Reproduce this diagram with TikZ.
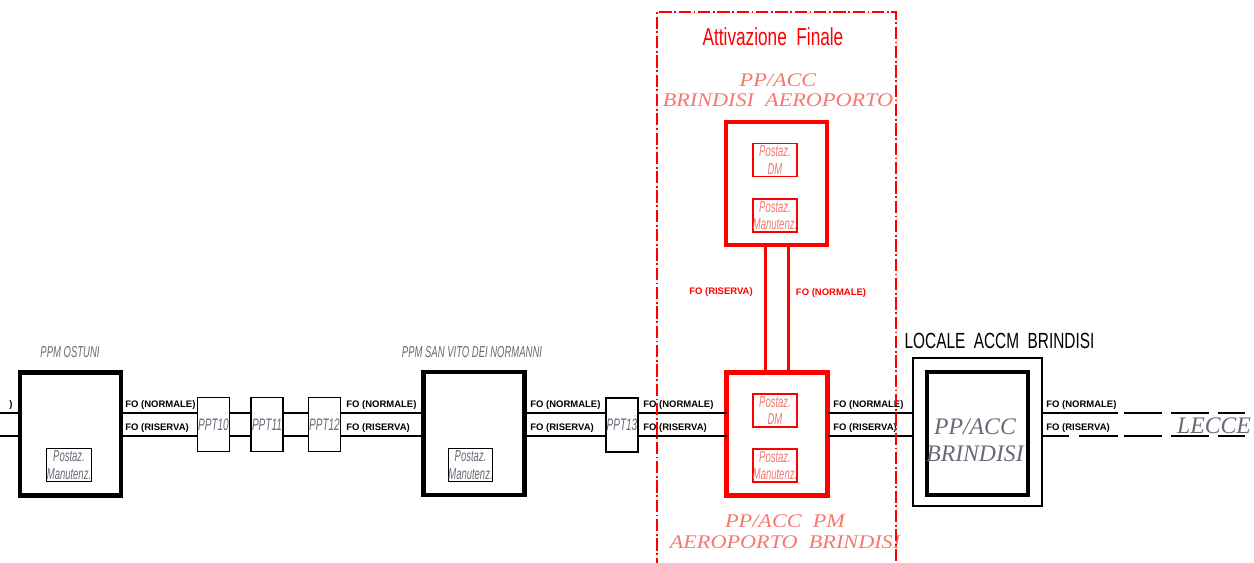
\documentclass[tikz,border=0pt]{standalone}
\usepackage{fontspec}
\setmainfont{Liberation Sans}
\newfontfamily\isofont[FakeStretch=0.6]{Liberation Sans}
\newfontfamily\narrowfont[FakeStretch=0.7]{Liberation Sans}
\newfontfamily\widefont[FakeStretch=1.15]{Liberation Serif}
\newfontfamily\seriffont{Liberation Serif}
\definecolor{salmon}{RGB}{245,120,110}
\definecolor{inkgray}{RGB}{105,105,120}

\begin{document}
\begin{tikzpicture}[
        x=0.02cm, y=-0.02cm,
        station/.style={
            rectangle,
            draw,
            line width=2.8pt,
            minimum width=2.02cm,
            minimum height=2.46cm,
            inner sep=0pt,
            outer sep=0pt
        },
        postaz/.style={
            rectangle,
            draw,
            line width=0.6pt,
            align=center,
            text=inkgray,
            font=\isofont\itshape\fontsize{9}{10}\selectfont,
            minimum width=0.88cm,
            minimum height=0.66cm,
            inner sep=0pt
        },
        redpostaz/.style={
            postaz,
            draw=red,
            line width=1pt,
            text=salmon
        },
        ppt/.style={
            rectangle,
            draw,
            line width=1.1pt,
            text=inkgray,
            font=\isofont\itshape\fontsize{9.5}{10}\selectfont,
            minimum width=0.64cm,
            minimum height=1.08cm,
            inner sep=0pt
        },
        isolabel/.style={
            text=inkgray,
            font=\isofont\itshape\fontsize{9}{10}\selectfont,
            inner sep=0pt
        },
        salmontext/.style={
            text=salmon,
            align=center,
            inner sep=0pt
        },
        fo/.style={
            anchor=west,
            inner sep=0pt,
            font=\bfseries\fontsize{5.4}{6}\selectfont
        },
        bus/.style={
            line width=1.7pt
        },
        redlink/.style={
            draw=red,
            line width=1.7pt
        },
        frame/.style={
            draw=red,
            line width=0.6pt,
            dash pattern=on 7pt off 1.5pt on 1pt off 1.5pt
        }
    ]

        \useasboundingbox (0,0) rectangle (1254,563);

        \coordinate (nrm) at (0,413);
        \coordinate (ris) at (0,436);
        \coordinate (rvl) at (765,0);
        \coordinate (rvr) at (788,0);
        \coordinate (farn) at (1245,413);
        \coordinate (farr) at (1245,436);

        % stations and splice boxes
        \node[station] (ostuni) at (70.5,434) {};
        \node[postaz] (ostunipm) at (69,465) {Postaz.\\Manutenz.};
        \node[ppt] (ppt10) at (213.5,424.5) {PPT10};
        \node[ppt] (ppt11) at (267,424.5) {PPT11};
        \node[ppt] (ppt12) at (324.5,424.5) {PPT12};
        \node[station] (sanvito) at (474,433.5) {};
        \node[postaz] (sanvitopm) at (470.5,465) {Postaz.\\Manutenz.};
        \node[ppt] (ppt13) at (622,425) {PPT13};

        \node[station, draw=red] (aero) at (776.5,183.5) {};
        \node[redpostaz] (aerodm) at (775,160) {Postaz.\\DM};
        \node[redpostaz] (aeropm) at (775,215.5) {Postaz.\\Manutenz.};
        \node[station, draw=red] (pm) at (777,434) {};
        \node[redpostaz] (pmdm) at (775,410.5) {Postaz.\\DM};
        \node[redpostaz] (pmpm) at (775,465.5) {Postaz.\\Manutenz.};

        \node[rectangle, draw, line width=0.8pt, minimum width=2.58cm, minimum height=2.96cm, inner sep=0pt] (accmout) at (977.5,432) {};
        \node[station] (accm) at (977.5,433.5) {};
        \node[text=inkgray, align=center, inner sep=0pt, font=\seriffont\itshape\fontsize{13.5}{15.3}\selectfont] (accmtxt) at (975,440) {PP/ACC\\BRINDISI};

        % titles
        \node[isolabel] (ostunilbl) at (70,352) {PPM OSTUNI};
        \node[isolabel] (sanvitolbl) at (472,352) {PPM SAN VITO DEI NORMANNI};
        \node[text=red, inner sep=0pt, font=\narrowfont\fontsize{14}{16}\selectfont] (attiv) at (773,37) {Attivazione\ \ Finale};
        \node[salmontext, font=\widefont\itshape\fontsize{11}{11.3}\selectfont] (aerolbl) at (778,90) {PP/ACC\\BRINDISI\ \ AEROPORTO};
        \node[salmontext, font=\widefont\itshape\fontsize{11}{11.9}\selectfont] (pmlbl) at (785,532) {PP/ACC\ \ PM\\AEROPORTO\ \ BRINDISI};
        \node[inner sep=0pt, font=\narrowfont\fontsize{12.5}{14}\selectfont] (accmlbl) at (999.5,341) {LOCALE\ \ ACCM\ \ BRINDISI};
        \node[text=inkgray, inner sep=0pt, font=\seriffont\itshape\fontsize{13.5}{15}\selectfont] (lecce) at (1214,426) {LECCE};

        % fibre links
        \draw[bus] (nrm) -- (ostuni.west |- nrm) (ris) -- (ostuni.west |- ris);
        \draw[bus] (ostuni.east |- nrm) -- (ppt10.west |- nrm) (ostuni.east |- ris) -- (ppt10.west |- ris);
        \draw[bus] (ppt10.east |- nrm) -- (ppt11.west |- nrm) (ppt10.east |- ris) -- (ppt11.west |- ris);
        \draw[bus] (ppt11.east |- nrm) -- (ppt12.west |- nrm) (ppt11.east |- ris) -- (ppt12.west |- ris);
        \draw[bus] (ppt12.east |- nrm) -- (sanvito.west |- nrm) (ppt12.east |- ris) -- (sanvito.west |- ris);
        \draw[bus] (sanvito.east |- nrm) -- (ppt13.west |- nrm) (sanvito.east |- ris) -- (ppt13.west |- ris);
        \draw[bus] (ppt13.east |- nrm) -- (pm.west |- nrm) (ppt13.east |- ris) -- (pm.west |- ris);
        \draw[bus] (pm.east |- nrm) -- (accmout.west |- nrm) (pm.east |- ris) -- (accmout.west |- ris);
        \draw[bus, dash pattern=on 43pt off 3.4pt on 21.5pt off 5.1pt on 21.5pt off 5.1pt on 21.5pt off 5.1pt] (accmout.east |- nrm) -- (farn);
        \draw[bus, dash pattern=on 14.7pt off 5.7pt on 22.7pt off 3.4pt on 21.5pt off 5.1pt on 21.5pt off 5.1pt on 21.5pt off 5.1pt] (accmout.east |- ris) -- (farr);
        \draw[redlink] (aero.south -| rvl) -- (pm.north -| rvl);
        \draw[redlink] (aero.south -| rvr) -- (pm.north -| rvr);

        % link labels
        \node[fo, anchor=east] (fo0n) at (13,405) {)};
        \node[fo] (fo1n) at (125,405) {FO\ (NORMALE)};
        \node[fo] (fo1r) at (125,428) {FO\ (RISERVA)};
        \node[fo] (fo2n) at (346,405) {FO\ (NORMALE)};
        \node[fo] (fo2r) at (346,428) {FO\ (RISERVA)};
        \node[fo] (fo3n) at (530,405) {FO\ (NORMALE)};
        \node[fo] (fo3r) at (530,428) {FO\ (RISERVA)};
        \node[fo] (fo4n) at (643,405) {FO\ (NORMALE)};
        \node[fo] (fo4r) at (643,428) {FO\ (RISERVA)};
        \node[fo] (fo5n) at (833,405) {FO\ (NORMALE)};
        \node[fo] (fo5r) at (833,428) {FO\ (RISERVA)};
        \node[fo] (fo6n) at (1046,405) {FO\ (NORMALE)};
        \node[fo] (fo6r) at (1046,428) {FO\ (RISERVA)};
        \node[fo, anchor=center, text=red] (forr) at (721,292) {FO\ (RISERVA)};
        \node[fo, anchor=center, text=red] (forn) at (831,293) {FO\ (NORMALE)};

        % activation area
        \draw[frame] (657,570) |- (896,12) -- (896,570);

    \end{tikzpicture}
\end{document}
